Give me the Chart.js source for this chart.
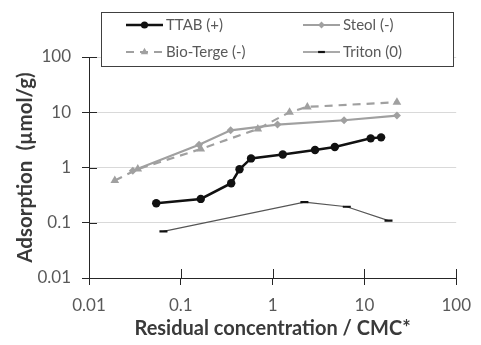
<!DOCTYPE html>
<html>
<head>
<meta charset="utf-8">
<script src="https://cdn.jsdelivr.net/npm/chart.js@4/dist/chart.umd.min.js"></script>
<style>
html,body{margin:0;padding:0;background:#fff;}
#wrap{width:481px;height:345px;position:relative;}
</style>
</head>
<body>
<div id="wrap"><canvas id="c" width="481" height="345"></canvas></div>
<script>
// ---- data ----
const seriesNames = ['TTAB (+)', 'Steol (-)', 'Bio-Terge (-)', 'Triton (0)'];
const ttabX = [0.054, 0.165, 0.354, 0.436, 0.582, 1.29, 2.9, 4.76, 11.7, 15.2];
const ttabY = [0.225, 0.27, 0.52, 0.93, 1.46, 1.72, 2.07, 2.35, 3.37, 3.51];
const steolX = [0.030, 0.158, 0.349, 1.13, 6.0, 22.6];
const steolY = [0.87, 2.59, 4.71, 5.98, 7.16, 8.7];
const bioX = [0.0191, 0.034, 0.165, 0.69, 1.53, 2.39, 22.6];
const bioY = [0.58, 0.935, 2.16, 4.99, 10.0, 12.5, 15.2];
const tritonX = [0.0647, 2.22, 6.43, 18.3];
const tritonY = [0.0698, 0.237, 0.195, 0.109];
const tickValues = [0.01, 0.1, 1, 10, 100];
const tickLabels = ['0.01', '0.1', '1', '10', '100'];
const xTitle = 'Residual concentration / CMC*';
const yTitle = 'Adsorption  (\u00b5mol/g)';

const pts = (xs, ys) => xs.map((x, i) => ({x: x, y: ys[i]}));

const FONT = 'Lato, "Open Sans", sans-serif';
const TICK_COLOR = '#595959';

const datasets = [
  {label: seriesNames[0], data: pts(ttabX, ttabY), borderColor: '#111', backgroundColor: '#111',
   borderWidth: 2.5, pointStyle: 'circle', pointRadius: 4.2, pointBorderWidth: 0},
  {label: seriesNames[1], data: pts(steolX, steolY), borderColor: '#a0a0a0', backgroundColor: '#a0a0a0',
   borderWidth: 2.2, pointStyle: 'rectRot', pointRadius: 4, pointBorderWidth: 0},
  {label: seriesNames[2], data: pts(bioX, bioY), borderColor: '#a0a0a0', backgroundColor: '#a0a0a0',
   borderWidth: 2.2, borderDash: [8, 6], pointStyle: 'triangle', pointRadius: 5, pointBorderWidth: 0},
  {label: seriesNames[3], data: pts(tritonX, tritonY), borderColor: '#555', backgroundColor: '#111',
   borderWidth: 1.2, pointStyle: 'line', pointRadius: 4, pointBorderWidth: 2.2, pointBorderColor: '#111'}
];

function fixedTicks(scale) {
  scale.ticks = tickValues.map(v => ({value: v}));
}

// inner halves of the axis tick marks + legend box
const extras = {
  id: 'extras',
  afterDraw(chart) {
    const ctx = chart.ctx;
    const xs = chart.scales.x, ys = chart.scales.y;
    const area = chart.chartArea;
    ctx.save();
    ctx.strokeStyle = '#262626';
    ctx.lineWidth = 1;
    ctx.beginPath();
    tickValues.forEach(v => {
      const py = Math.round(ys.getPixelForValue(v)) + 0.5;
      ctx.moveTo(area.left, py); ctx.lineTo(area.left + 8, py);
      const px = Math.round(xs.getPixelForValue(v)) + 0.5;
      ctx.moveTo(px, area.bottom); ctx.lineTo(px, area.bottom - 9);
    });
    ctx.stroke();

    // legend
    const bx = 101.5, by = 12.5, bw = 352, bh = 54;
    ctx.fillStyle = '#fff';
    ctx.fillRect(bx, by, bw, bh);
    ctx.strokeStyle = '#404040';
    ctx.lineWidth = 1;
    ctx.strokeRect(bx, by, bw, bh);
    const cols = [126, 303];
    const rows = [25, 52];
    const lineLen = 37;
    chart.data.datasets.forEach((ds, i) => {
      const lx = cols[i % 2], ly = rows[Math.floor(i / 2)];
      ctx.save();
      ctx.strokeStyle = ds.borderColor;
      ctx.lineWidth = ds.borderWidth;
      ctx.setLineDash(ds.borderDash || []);
      ctx.beginPath();
      ctx.moveTo(lx, ly); ctx.lineTo(lx + lineLen, ly);
      ctx.stroke();
      ctx.setLineDash([]);
      const opts = {pointStyle: ds.pointStyle, radius: ds.pointRadius * 0.85, rotation: 0,
                    borderWidth: ds.pointBorderWidth};
      ctx.fillStyle = ds.backgroundColor;
      ctx.strokeStyle = ds.pointBorderColor || ds.backgroundColor;
      ctx.lineWidth = ds.pointBorderWidth;
      Chart.helpers.drawPoint(ctx, opts, lx + lineLen / 2, ly);
      ctx.restore();
      ctx.fillStyle = TICK_COLOR;
      ctx.font = '15px ' + FONT;
      ctx.textBaseline = 'middle';
      ctx.textAlign = 'left';
      ctx.fillText(ds.label, lx + lineLen + 3, ly);
    });
    ctx.restore();
  }
};

new Chart(document.getElementById('c'), {
  type: 'line',
  data: {datasets: datasets},
  options: {
    responsive: false,
    animation: false,
    devicePixelRatio: 1,
    layout: {padding: {left: 0, top: 57, right: 22, bottom: 0}},
    plugins: {legend: {display: false}, tooltip: {enabled: false}},
    elements: {line: {tension: 0}},
    scales: {
      x: {
        type: 'logarithmic', min: 0.01, max: 100,
        afterBuildTicks: fixedTicks,
        afterFit(s) { s.height = 67; },
        border: {display: true, color: '#262626', width: 1},
        grid: {display: true, drawOnChartArea: false, drawTicks: true, tickLength: 7, tickColor: '#262626'},
        ticks: {autoSkip: false, maxRotation: 0, padding: 10, color: TICK_COLOR,
                font: {family: FONT, size: 17},
                callback: (v) => tickLabels[tickValues.indexOf(v)] ?? ''},
        title: {display: true, text: xTitle, color: '#3a3a3a',
                font: {family: FONT, size: 20, weight: 'bold'}, padding: {top: 0, bottom: 4}}
      },
      y: {
        type: 'logarithmic', min: 0.01, max: 100,
        afterBuildTicks: fixedTicks,
        afterFit(s) { s.width = 89; },
        border: {display: true, color: '#262626', width: 1},
        grid: {display: true, color: '#d9d9d9', lineWidth: 1, drawTicks: true, tickLength: 7, tickColor: '#262626'},
        ticks: {autoSkip: false, padding: 11, color: TICK_COLOR,
                font: {family: FONT, size: 17},
                callback: (v) => tickLabels[tickValues.indexOf(v)] ?? ''},
        title: {display: true, text: yTitle, color: '#3a3a3a',
                font: {family: FONT, size: 20.5, weight: 'bold'}, padding: {top: 13, bottom: 0}}
      }
    }
  },
  plugins: [extras]
});
</script>
</body>
</html>
